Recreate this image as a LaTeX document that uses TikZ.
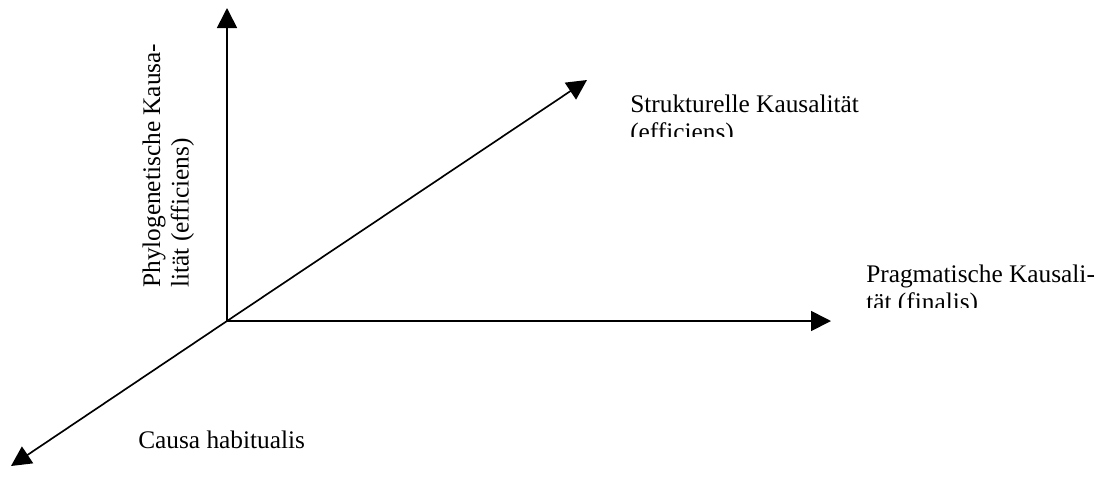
\documentclass[tikz,border=0pt]{standalone}
\usepackage{fontspec}
\setmainfont{Liberation Serif}
\usetikzlibrary{arrows.meta}
\begin{document}
\begin{tikzpicture}[x=0.75pt,y=-0.75pt,
  axis/.style={line width=1.25pt,-{Triangle[length=15pt,width=15pt]}},
  lbl/.style={inner sep=0pt,anchor=base west,font=\fontsize{19}{21}\selectfont}]
\useasboundingbox (0,0) rectangle (1119,480);
\coordinate (O) at (227,321);
\coordinate (up) at (227,8);
\coordinate (right) at (831,321);
\coordinate (diag) at (587,80);
\coordinate (down) at (11,466);
\draw[axis] (O) -- (up);
\draw[axis] (O) -- (right);
\draw[axis] (O) -- (diag);
\draw[axis] (O) -- (down);
% rotated label
\node[lbl,rotate=90] (phyl1) at (160,288) {Phylogenetische Kausa-};
\node[lbl,rotate=90] (phyl2) at (188.5,288) {lität (efficiens)};
% structural
\node[lbl] (str1) at (630,112) {Strukturelle Kausalität};
\begin{scope}
\clip (600,117) rectangle (900,136);
\node[lbl] (str2) at (630,140.5) {(efficiens)};
\end{scope}
% pragmatic
\node[lbl] (prag1) at (866,282) {Pragmatische Kausali-};
\begin{scope}
\clip (850,287) rectangle (1119,307);
\node[lbl] (prag2) at (866,310.5) {tät (finalis)};
\end{scope}
% habitualis
\node[lbl] (hab) at (138,448) {Causa habitualis};
\end{tikzpicture}
\end{document}
